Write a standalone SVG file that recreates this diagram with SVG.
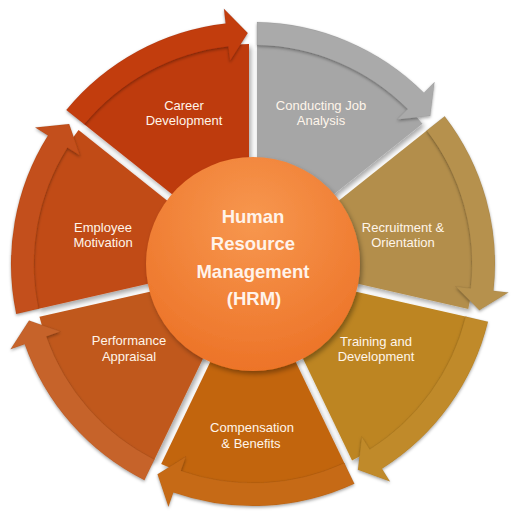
<svg xmlns="http://www.w3.org/2000/svg" width="515" height="520" viewBox="0 0 515 520">
<defs>
<filter id="sh" x="-20%" y="-20%" width="140%" height="140%">
<feDropShadow dx="2" dy="3" stdDeviation="2.5" flood-color="#000" flood-opacity="0.35"/>
</filter>
<filter id="shb" x="-20%" y="-20%" width="140%" height="140%">
<feDropShadow dx="0" dy="1.5" stdDeviation="1.5" flood-color="#000" flood-opacity="0.35"/>
</filter>
<radialGradient id="hub" cx="50%" cy="30%" r="75%">
<stop offset="0" stop-color="#F7974F"/>
<stop offset="1" stop-color="#EC7125"/>
</radialGradient>
</defs>
<style>
.lbl{font-family:"Liberation Sans",Arial,sans-serif;font-size:13px;fill:#FFF5EA;text-anchor:middle}
.hub{font-family:"Liberation Sans",Arial,sans-serif;font-size:18.5px;font-weight:bold;fill:#FFF3EA;text-anchor:middle}
.seg{filter:url(#sh)}
.band{filter:url(#shb);stroke:#000;stroke-opacity:0.08;stroke-width:0.8}
</style>

<g id="conducting-job-analysis">
<path class="seg" fill="#A6A6A6" d="M 257 164.08 L 257 44.04 A 220 220 0 0 1 422.48 123.73 L 328.63 198.57 Z"/>
<text class="lbl" x="321" y="110">Conducting Job</text>
<text class="lbl" x="321" y="125">Analysis</text>
</g>
<g id="recruitment-orientation">
<path class="seg" fill="#B38E4C" d="M 333.61 204.83 L 427.46 129.99 A 220 220 0 0 1 468.34 309.05 L 351.31 282.33 Z"/>
<text class="lbl" x="403" y="232">Recruitment &amp;</text>
<text class="lbl" x="403" y="247">Orientation</text>
</g>
<g id="training-development">
<path class="seg" fill="#BD8520" d="M 349.53 290.13 L 466.56 316.85 A 220 220 0 0 1 352.04 460.44 L 299.96 352.29 Z"/>
<text class="lbl" x="376" y="346">Training and</text>
<text class="lbl" x="376" y="361">Development</text>
</g>
<g id="compensation-benefits">
<path class="seg" fill="#C2650F" d="M 292.75 355.76 L 344.83 463.91 A 220 220 0 0 1 161.17 463.91 L 213.25 355.76 Z"/>
<text class="lbl" x="252" y="432">Compensation</text>
<text class="lbl" x="251" y="448">&amp; Benefits</text>
</g>
<g id="performance-appraisal">
<path class="seg" fill="#C0591B" d="M 206.05 352.29 L 153.96 460.44 A 220 220 0 0 1 39.44 316.85 L 156.47 290.13 Z"/>
<text class="lbl" x="129" y="345">Performance</text>
<text class="lbl" x="129" y="361">Appraisal</text>
</g>
<g id="employee-motivation">
<path class="seg" fill="#C14B17" d="M 154.69 282.33 L 37.66 309.05 A 220 220 0 0 1 78.54 129.99 L 172.39 204.83 Z"/>
<text class="lbl" x="103" y="232">Employee</text>
<text class="lbl" x="103" y="247">Motivation</text>
</g>
<g id="career-development">
<path class="seg" fill="#BE3A0F" d="M 177.37 198.57 L 83.52 123.73 A 220 220 0 0 1 249 44.04 L 249 164.08 Z"/>
<text class="lbl" x="184" y="110">Career</text>
<text class="lbl" x="184" y="125">Development</text>
</g>

<g id="connectors">
<path class="band" fill="#AAAAAA" d="M 257 22.03 A 242 242 0 0 1 423.91 92.67 L 434.50 82.05 L 430.29 115.91 L 397.07 119.57 L 407.66 108.95 A 219 219 0 0 0 257 45.04 Z"/>
<path class="band" fill="#B6914E" d="M 444.67 116.26 A 242 242 0 0 1 493.51 290.80 L 508.42 292.46 L 479.32 310.28 L 455.75 286.59 L 470.65 288.25 A 219 219 0 0 0 426.68 130.61 Z"/>
<path class="band" fill="#C08A2A" d="M 488.01 321.74 A 242 242 0 0 1 382.01 468.75 L 390.00 481.44 L 357.92 469.80 L 361.75 436.60 L 369.74 449.29 A 219 219 0 0 0 465.58 316.62 Z"/>
<path class="band" fill="#C66B18" d="M 354.38 483.74 A 242 242 0 0 1 173.36 492.52 L 168.42 506.69 L 157.52 474.34 L 185.86 456.64 L 180.93 470.80 A 219 219 0 0 0 344.40 463.01 Z"/>
<path class="band" fill="#C6632A" d="M 144.41 480.27 A 242 242 0 0 1 24.68 344.21 L 10.53 349.18 L 29.02 320.50 L 60.53 331.62 L 46.38 336.59 A 219 219 0 0 0 154.40 459.54 Z"/>
<path class="band" fill="#C34F1A" d="M 16.21 313.94 A 242 242 0 0 1 47.93 135.50 L 35.22 127.54 L 69.17 124.11 L 80.13 155.68 L 67.42 147.72 A 219 219 0 0 0 38.64 308.82 Z"/>
<path class="band" fill="#C23C10" d="M 66.31 110.00 A 242 242 0 0 1 225.61 23.56 L 223.91 8.65 L 247.76 33.06 L 229.91 61.31 L 228.21 46.41 A 219 219 0 0 0 84.30 124.35 Z"/>
</g>

<g id="hrm">
<circle cx="253" cy="264" r="107" fill="url(#hub)" filter="url(#sh)"/>
<text class="hub" x="253" y="223">Human</text>
<text class="hub" x="253" y="250">Resource</text>
<text class="hub" x="253" y="278">Management</text>
<text class="hub" x="254" y="305">(HRM)</text>
</g>
</svg>
